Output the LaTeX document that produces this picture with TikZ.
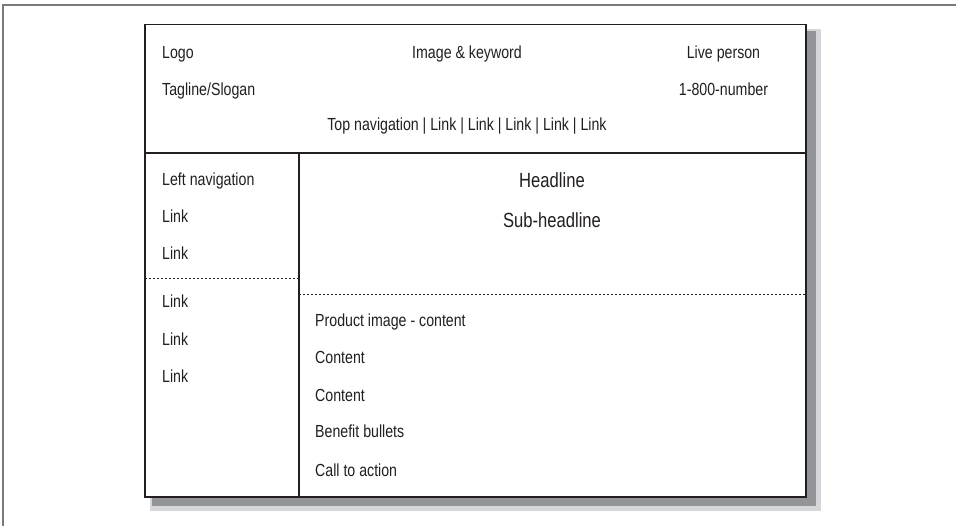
\documentclass[tikz,border=0pt]{standalone}
\usepackage{fontspec}
\setmainfont[FakeStretch=0.81]{Liberation Sans}
\usetikzlibrary{positioning}
\definecolor{inkgrey}{HTML}{231F20}
\definecolor{shadowgrey}{HTML}{939498}
\definecolor{shadowfade}{HTML}{D5D6D9}
\definecolor{framegrey}{HTML}{7A7A7A}

\begin{document}
\begin{tikzpicture}[x=1pt, y=-1pt,
      lbl/.style={inner sep=0pt, anchor=base west, text=inkgrey,
                  font=\fontsize{17.5}{20}\selectfont},
      centred/.style={lbl, anchor=base},
      heading/.style={centred, font=\fontsize{20.5}{24}\selectfont},
      rule/.style={draw=inkgrey, line width=1.2pt},
      split/.style={draw=inkgrey, line width=0.9pt, dash pattern=on 2pt off 2pt}
    ]
      \useasboundingbox (0,0) rectangle (956,526);

      % page frame (top and left edges only)
      \coordinate (fr) at (956,5);
      \coordinate (fc) at (3,5);
      \coordinate (fb) at (3,526);
      \draw[framegrey, line width=1.6pt] (fr) -- (fc) -- (fb);

      % box corners and dividers
      \coordinate (nw) at (145,24.5);
      \coordinate (se) at (806,497);
      \coordinate (hl) at (145,153);
      \coordinate (hr) at (806,153);
      \coordinate (vt) at (299,153);
      \coordinate (vb) at (299,497);
      \coordinate (dl) at (145,278);
      \coordinate (dm) at (299,278);
      \coordinate (cl) at (299,294);
      \coordinate (cr) at (806,294);

      % drop shadow
      \fill[shadowfade] (150,29) rectangle (821,511);
      \fill[shadowgrey] (152,31) rectangle (816,506);

      \fill[white] (nw) rectangle (se);
      \draw[split] (dl) -- (dm);
      \draw[split] (cl) -- (cr);
      \draw[rule] (hl) -- (hr);
      \draw[rule] (vt) -- (vb);
      \draw[rule] (nw) rectangle (se);

      % header
      \node[lbl] (logo) at (162,59) {Logo};
      \node[lbl] (tag) at (162,96) {Tagline/Slogan};
      \node[centred] (img) at (467,59) {Image \& keyword};
      \node[centred] (topnav) at (467,131) {Top navigation | Link | Link | Link | Link | Link};
      \node[centred] (live) at (723.5,59) {Live person};
      \node[centred] (phone) at (723.5,96) {1-800-number};

      % left column
      \node[lbl] (lnav) at (162,186) {Left navigation};
      \node[lbl] (l1) at (162,223) {Link};
      \node[lbl] (l2) at (162,260) {Link};
      \node[lbl] (l3) at (162,308) {Link};
      \node[lbl] (l4) at (162,346) {Link};
      \node[lbl] (l5) at (162,383) {Link};

      % main column
      \node[heading] (head) at (552,188) {Headline};
      \node[heading] (sub) at (552,228) {Sub-headline};

      \node[lbl] (prod) at (315,327) {Product image - content};
      \node[lbl] (c1) at (315,364) {Content};
      \node[lbl] (c2) at (315,402) {Content};
      \node[lbl] (ben) at (315,438) {Benefit bullets};
      \node[lbl] (cta) at (315,476) {Call to action};
    \end{tikzpicture}
\end{document}
